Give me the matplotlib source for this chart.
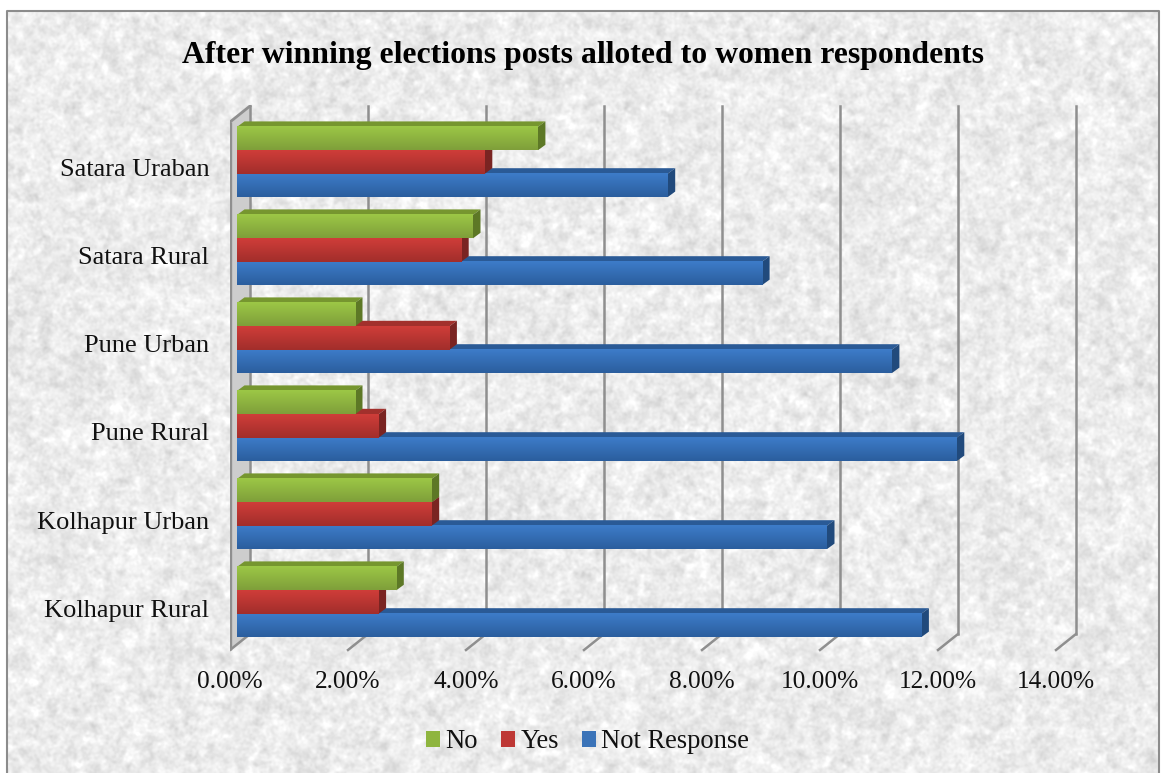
import numpy as np
import matplotlib
matplotlib.use('Agg')
import matplotlib.pyplot as plt
from matplotlib.patches import Patch, Polygon

plt.rcParams['font.family'] = ['Liberation Serif', 'DejaVu Serif']

title = 'After winning elections posts alloted to women respondents'
categories = ['Kolhapur Rural', 'Kolhapur Urban', 'Pune Rural', 'Pune Urban', 'Satara Rural', 'Satara Uraban']
no_vals = [2.7, 3.3, 2.0, 2.0, 4.0, 5.1]
yes_vals = [2.4, 3.3, 2.4, 3.6, 3.8, 4.2]
not_resp_vals = [11.6, 10.0, 12.2, 11.1, 8.9, 7.3]
xticks = [0, 2, 4, 6, 8, 10, 12, 14]

W, H = 1162, 773
PX_X = 59.0   # pixels per 1%
PX_Y = 88.0   # pixels per category


def marble(seed=3):
    rng = np.random.default_rng(seed)
    fy = np.fft.fftfreq(H)[:, None]
    fx = np.fft.rfftfreq(W)[None, :]
    out = np.zeros((H, W))
    for sig, amp in [(1.2, 0.016), (3.0, 0.022), (12, 0.006)]:
        n = rng.standard_normal((H, W))
        f = np.fft.rfft2(n) * np.exp(-2 * (np.pi * sig) ** 2 * (fx ** 2 + fy ** 2))
        s = np.fft.irfft2(f, s=(H, W))
        out += amp * s / s.std()
    return np.clip(0.925 + out, 0.78, 1.0)


def gradient(ax, bar, top, bottom, z):
    x, y, w, h = bar.get_x(), bar.get_y(), bar.get_width(), bar.get_height()
    c0, c1 = np.array(matplotlib.colors.to_rgb(top)), np.array(matplotlib.colors.to_rgb(bottom))
    t = np.linspace(0, 1, 32)[:, None, None]
    img = c0[None, None, :] * (1 - t) + c1[None, None, :] * t
    ax.imshow(img, extent=(x, x + w, y, y + h), origin='upper', aspect='auto', zorder=z, interpolation='bilinear')


fig = plt.figure(figsize=(W / 100, H / 100), dpi=100, facecolor='white')
bg = fig.add_axes([0, 0, 1, 1])
bg.imshow(marble()[11:, 7:1159], cmap='gray', vmin=0, vmax=1, aspect='auto', extent=(7, 1159, H, 11))
bg.set_xlim(0, W)
bg.set_ylim(H, 0)
bg.axis('off')
bg.plot([7, 7, 1159, 1159], [H, 11, 11, H], color='#8c8c8c', lw=1.5)

# plot area, pixel box 230..1080 / 105..652
left, right, top_px, bot_px = 230, 1080, 105, 652
ax = fig.add_axes([left / W, 1 - bot_px / H, (right - left) / W, (bot_px - top_px) / H])
ax.patch.set_alpha(0)
for s in ax.spines.values():
    s.set_visible(False)

# 3d offsets
wall_dx, wall_dy = 20 / PX_X, 16 / PX_Y
bar_x0 = 7 / PX_X
bar_dx, bar_dy = 7.5 / PX_X, 5.5 / PX_Y
y_front = -(650 - 602) / PX_Y
y_top = (602 - 122) / PX_Y

# side wall and grid
ax.add_patch(Polygon([(0, y_front), (wall_dx, y_front + wall_dy), (wall_dx, y_top + wall_dy), (0, y_top)],
                     closed=True, fc='#cdcdcd', ec='none', zorder=1))
ax.plot([0, 0], [y_front, y_top], color='#8f8f8f', lw=2.4, zorder=2, solid_capstyle='butt')
ax.plot([0, wall_dx], [y_top, y_top + wall_dy], color='#8f8f8f', lw=2, zorder=2)
for v in xticks:
    ax.plot([v + wall_dx, v + wall_dx], [y_front + wall_dy, y_top + wall_dy], color='#8f8f8f', lw=1.8, zorder=2)
    ax.plot([v, v + wall_dx], [y_front, y_front + wall_dy], color='#8f8f8f', lw=1.8, zorder=2)

series = [
    ('Not Response', not_resp_vals, -1, '#3d7cc9', '#2b5e9e', '#2a5a96', '#214a7c', '#3a73b8'),
    ('Yes', yes_vals, 0, '#cf3d39', '#a22e2b', '#a2302c', '#7a2422', '#be3835'),
    ('No', no_vals, 1, '#9cc746', '#7f9f3a', '#76962f', '#5d7826', '#8fb53f'),
]
bar_h = 23.4 / PX_Y
z = 5
for name, vals, off, c_top, c_bot, c_roof, c_side, c_leg in series:
    bars = ax.barh(np.arange(len(categories)) + off * bar_h, vals, height=bar_h, left=bar_x0, color=c_top, zorder=z)
    for b in bars:
        x1 = b.get_x() + b.get_width()
        y0, y1 = b.get_y(), b.get_y() + b.get_height()
        ax.add_patch(Polygon([(b.get_x(), y1), (b.get_x() + bar_dx, y1 + bar_dy), (x1 + bar_dx, y1 + bar_dy), (x1, y1)],
                             closed=True, fc=c_roof, ec='none', zorder=z))
        ax.add_patch(Polygon([(x1, y0), (x1 + bar_dx, y0 + bar_dy), (x1 + bar_dx, y1 + bar_dy), (x1, y1)],
                             closed=True, fc=c_side, ec='none', zorder=z))
        gradient(ax, b, c_top, c_bot, z + 0.5)
    z += 1

ax.set_xlim(0, (right - left) / PX_X)
ax.set_ylim((602 - bot_px) / PX_Y, (602 - top_px) / PX_Y)
ax.set_xticks(xticks)
ax.set_xticklabels([f'{v:.2f}%' for v in xticks], fontsize=18.3, color='#111111')
ax.set_yticks(np.arange(len(categories)) - 6 / PX_Y)
ax.set_yticklabels(categories, fontsize=19, color='#111111')
ax.tick_params(axis='both', length=0)
ax.tick_params(axis='x', pad=14)
ax.tick_params(axis='y', pad=15)

fig.text(583 / W, 1 - 55 / H, title, ha='center', va='center', fontsize=22.9, fontweight='bold', color='black')

handles = [Patch(fc=s[7], ec='none', label=s[0]) for s in reversed(series)]
fig.legend(handles=handles, loc='center', bbox_to_anchor=(587.5 / W, 1 - 742 / H), ncol=3, frameon=False,
           fontsize=19.1, handlelength=0.55, handleheight=0.55, handletextpad=0.2, columnspacing=0.85,
           labelcolor='#111111', borderpad=0, borderaxespad=0)

fig.savefig('out.png', dpi=100)
